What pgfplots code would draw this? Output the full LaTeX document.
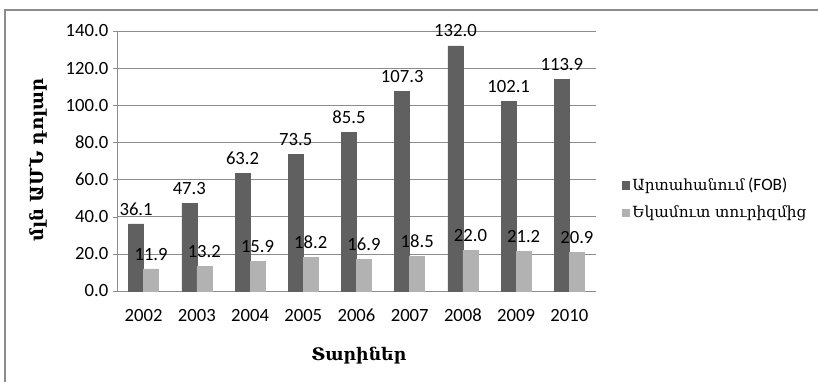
\documentclass[border=0pt]{standalone}
\usepackage{fontspec}
\usepackage{pgfplots}
\pgfplotsset{compat=1.18}
\setmainfont{Carlito}
\newfontfamily\arm{DejaVu Serif}
\definecolor{darkbar}{HTML}{606060}
\definecolor{lightbar}{HTML}{B2B2B2}
\definecolor{gridc}{HTML}{8C8C8C}
\begin{document}
\begin{tikzpicture}
\useasboundingbox (0,0) rectangle (613.5pt,286.5pt);
\draw[gridc, line width=0.9pt] (3.75pt,-1pt) -- (3.75pt,279pt) -- (614pt,279pt);
\begin{axis}[
  at={(87.75pt,68.25pt)}, anchor=south west,
  scale only axis, width=359.25pt, height=195pt,
  xmin=-0.5, xmax=8.5, ymin=0, ymax=140,
  ybar=0pt, bar width=11.25pt,
  xtick={0,...,8},
  xticklabels={2002,2003,2004,2005,2006,2007,2008,2009,2010},
  ytick={0,20,...,140},
  axis x line*=bottom, axis y line*=left,
  axis line style={draw=gridc,-},
  ymajorgrids, grid style={gridc, line width=0.5pt},
  tick align=outside, major tick length=3pt,
  xtick style={draw=none},
  ytick style={draw=gridc},
  /pgf/number format/assume math mode=true,
  tick label style={font=\fontsize{14}{16}\selectfont},
  yticklabel style={/pgf/number format/.cd, fixed, fixed zerofill, precision=1},
  xticklabel style={yshift=-7pt, text height=9pt, text depth=0pt},
  nodes near coords,
  nodes near coords style={font=\fontsize{14}{16}\selectfont, yshift=3pt, /pgf/number format/.cd, fixed, fixed zerofill, precision=1, assume math mode=true},
  ylabel={\arm\bfseries մլն ԱՄՆ դոլար},
  ylabel style={font=\fontsize{13.5}{15}\selectfont, at={(rel axis cs:-0.165,0.504)}, anchor=center},
  xlabel={\arm\bfseries Տարիներ},
  xlabel style={font=\fontsize{13}{15}\selectfont, at={(rel axis cs:0.505,-0.25)}, anchor=center},
  legend style={draw=none, at={(1.045,0.354)}, anchor=west, font=\fontsize{11.5}{14}\selectfont, row sep=6pt, legend cell align=left},
  legend image code/.code={\fill[#1] (0pt,-2.75pt) rectangle (5.5pt,2.75pt);},
  clip=false,
]
\addplot[fill=darkbar, draw=darkbar] coordinates {(0,36.1) (1,47.3) (2,63.2) (3,73.5) (4,85.5) (5,107.3) (6,132.0) (7,102.1) (8,113.9)};
\addplot[fill=lightbar, draw=lightbar] coordinates {(0,11.9) (1,13.2) (2,15.9) (3,18.2) (4,16.9) (5,18.5) (6,22.0) (7,21.2) (8,20.9)};
\legend{{\arm Արտահանում} {\fontsize{13}{14}\selectfont(FOB)}, {\arm Եկամուտ տուրիզմից}}
\end{axis}
\end{tikzpicture}
\end{document}
